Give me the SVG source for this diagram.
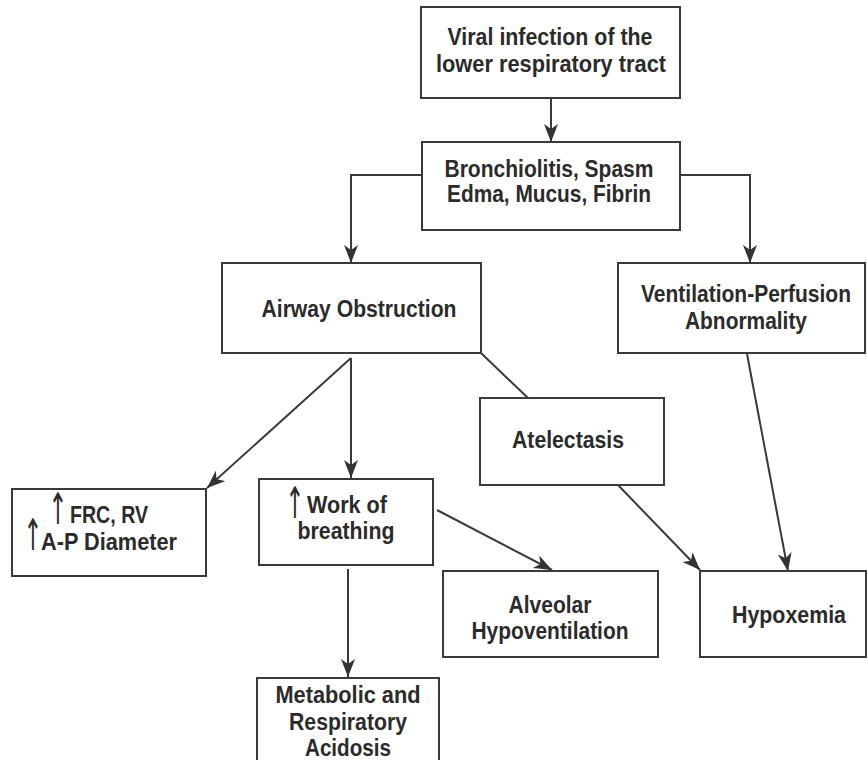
<svg xmlns="http://www.w3.org/2000/svg" width="867" height="760" viewBox="0 0 867 760">
<style>
.box{fill:#fff;stroke:#3a3a3a;stroke-width:2}
.t{font-family:"Liberation Sans",Arial,sans-serif;font-size:23.5px;fill:#2b2b2b;text-anchor:middle;font-weight:bold}
.up{font-family:"DejaVu Sans",sans-serif;font-size:30px;fill:#2b2b2b;text-anchor:middle}
.c{fill:none;stroke:#3a3a3a;stroke-width:2}
</style>
<defs>
<marker id="ah" markerUnits="userSpaceOnUse" markerWidth="20" markerHeight="16" viewBox="0 0 20 16" refX="18" refY="8" orient="auto">
<path d="M0,1 L18,8 L0,15 L5,8 z" fill="#333"/>
</marker>
</defs>
<rect width="867" height="760" fill="#fff"/>
<g id="connectors">
<line class="c" x1="551" y1="98" x2="551" y2="142" marker-end="url(#ah)"/>
<polyline class="c" points="422,175 351,175 351,263" marker-end="url(#ah)"/>
<polyline class="c" points="680,175 750,175 750,263" marker-end="url(#ah)"/>
<line class="c" x1="351" y1="358" x2="207" y2="488" marker-end="url(#ah)"/>
<line class="c" x1="351" y1="358" x2="351" y2="478" marker-end="url(#ah)"/>
<line class="c" x1="481" y1="353" x2="528" y2="398"/>
<line class="c" x1="348" y1="569" x2="348" y2="677" marker-end="url(#ah)"/>
<line class="c" x1="437" y1="510" x2="552" y2="570" marker-end="url(#ah)"/>
<line class="c" x1="618" y1="485" x2="700" y2="570" marker-end="url(#ah)"/>
<line class="c" x1="747" y1="354" x2="788" y2="571" marker-end="url(#ah)"/>
</g>
<g id="viral">
<rect class="box" x="421" y="7" width="259" height="91"/>
<text class="t" x="550" y="45" textLength="205" lengthAdjust="spacingAndGlyphs">Viral infection of the</text>
<text class="t" x="551" y="72" textLength="230" lengthAdjust="spacingAndGlyphs">lower respiratory tract</text>
</g>
<g id="bronchiolitis">
<rect class="box" x="422" y="142" width="258" height="88"/>
<text class="t" x="549" y="177" textLength="209" lengthAdjust="spacingAndGlyphs">Bronchiolitis, Spasm</text>
<text class="t" x="549" y="202" textLength="204" lengthAdjust="spacingAndGlyphs">Edma, Mucus, Fibrin</text>
</g>
<g id="airway">
<rect class="box" x="222" y="263" width="259" height="90"/>
<text class="t" x="359" y="317" textLength="195" lengthAdjust="spacingAndGlyphs">Airway Obstruction</text>
</g>
<g id="ventilation">
<rect class="box" x="618" y="263" width="247" height="90"/>
<text class="t" x="746" y="302" textLength="210" lengthAdjust="spacingAndGlyphs">Ventilation-Perfusion</text>
<text class="t" x="746" y="329" textLength="122" lengthAdjust="spacingAndGlyphs">Abnormality</text>
</g>
<g id="atelectasis">
<rect class="box" x="480" y="398" width="184" height="87"/>
<text class="t" x="568" y="448" textLength="112" lengthAdjust="spacingAndGlyphs">Atelectasis</text>
</g>
<g id="frc">
<rect class="box" x="12" y="489" width="194" height="87"/>
<text class="up" transform="translate(58,524) scale(0.75,1.45)">↑</text>
<text class="t" x="109" y="523" textLength="78" lengthAdjust="spacingAndGlyphs">FRC, RV</text>
<text class="up" transform="translate(33,550) scale(0.75,1.45)">↑</text>
<text class="t" x="109" y="550" textLength="136" lengthAdjust="spacingAndGlyphs">A-P Diameter</text>
</g>
<g id="work">
<rect class="box" x="259" y="479" width="174" height="86"/>
<text class="up" transform="translate(295,518) scale(0.75,1.45)">↑</text>
<text class="t" x="347" y="513" textLength="80" lengthAdjust="spacingAndGlyphs">Work of</text>
<text class="t" x="346" y="539" textLength="97" lengthAdjust="spacingAndGlyphs">breathing</text>
</g>
<g id="alveolar">
<rect class="box" x="443" y="571" width="215" height="86"/>
<text class="t" x="550" y="613" textLength="83" lengthAdjust="spacingAndGlyphs">Alveolar</text>
<text class="t" x="550" y="639" textLength="157" lengthAdjust="spacingAndGlyphs">Hypoventilation</text>
</g>
<g id="hypoxemia">
<rect class="box" x="700" y="571" width="166" height="86"/>
<text class="t" x="789" y="623" textLength="114" lengthAdjust="spacingAndGlyphs">Hypoxemia</text>
</g>
<g id="metabolic">
<rect class="box" x="257" y="678" width="182" height="90"/>
<text class="t" x="348" y="703" textLength="145" lengthAdjust="spacingAndGlyphs">Metabolic and</text>
<text class="t" x="348" y="730" textLength="118" lengthAdjust="spacingAndGlyphs">Respiratory</text>
<text class="t" x="348" y="756" textLength="86" lengthAdjust="spacingAndGlyphs">Acidosis</text>
</g>
</svg>
